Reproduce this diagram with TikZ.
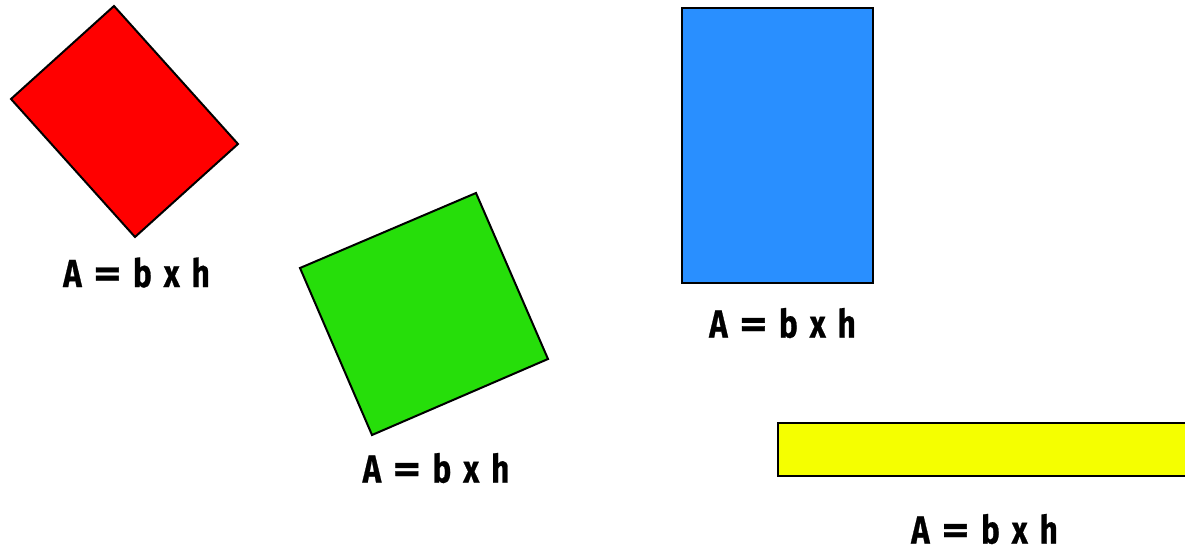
\documentclass[tikz,border=0pt]{standalone}
\usepackage{fontspec}
\newfontfamily\lblfont{Fira Sans}[FakeStretch=0.8,BoldFeatures={FakeBold=0.6}]
\definecolor{redc}{RGB}{255,0,0}
\definecolor{greenc}{RGB}{38,222,10}
\definecolor{bluec}{RGB}{41,143,255}
\definecolor{yellowc}{RGB}{245,255,0}
\newcommand{\areatext}{\spaceskip 12pt\relax A \scalebox{1.7}[1]{=} b x h}
\tikzset{
  shp/.style={draw=black, line width=2pt, line join=miter},
  lbl/.style={font={\lblfont\bfseries\fontsize{39}{42}\selectfont}, inner sep=0pt, anchor=base}
}
\begin{document}
\begin{tikzpicture}[x=1pt,y=-1pt]
\useasboundingbox (0,0) rectangle (1185,554);
\clip (0,0) rectangle (1185,554);
\fill[white] (0,0) rectangle (1185,554);
% red
\draw[shp, fill=redc] (114,6) -- (238,144) -- (135,237) -- (11,99) -- cycle;
% green
\draw[shp, fill=greenc] (300,268) -- (476,193) -- (548,359) -- (372,435) -- cycle;
% blue
\draw[shp, fill=bluec] (682,8) rectangle (873,283);
% yellow
\draw[shp, fill=yellowc] (778,423) rectangle (1195,476);
% labels
\node[lbl] (l1) at (136.5,287) {\areatext};
\node[lbl] (l2) at (436,482.5) {\areatext};
\node[lbl] (l3) at (782.5,337.5) {\areatext};
\node[lbl] (l4) at (984.5,543.5) {\areatext};
\end{tikzpicture}
\end{document}
